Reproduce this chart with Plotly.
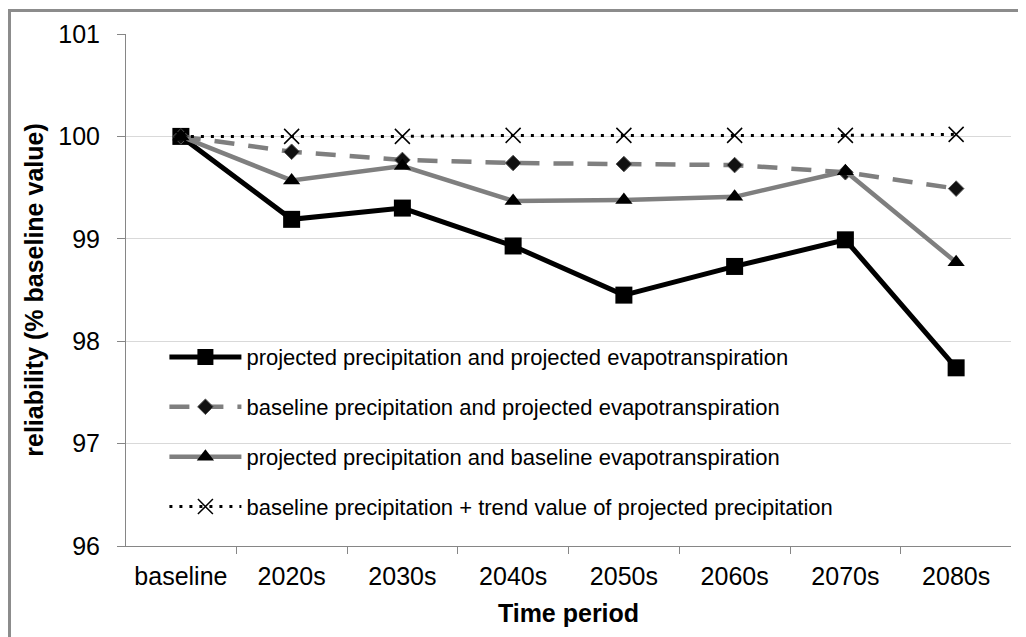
import plotly.graph_objects as go

categories = ["baseline", "2020s", "2030s", "2040s", "2050s", "2060s", "2070s", "2080s"]
proj_p_proj_et = [100.0, 99.19, 99.30, 98.93, 98.45, 98.73, 98.99, 97.74]
base_p_proj_et = [100.0, 99.85, 99.77, 99.74, 99.73, 99.72, 99.65, 99.49]
proj_p_base_et = [100.0, 99.57, 99.71, 99.37, 99.38, 99.41, 99.66, 98.77]
base_p_trend = [100.0, 100.0, 100.0, 100.01, 100.01, 100.01, 100.01, 100.02]

names = [
    "projected precipitation and projected evapotranspiration",
    "baseline precipitation and projected evapotranspiration",
    "projected precipitation and baseline evapotranspiration",
    "baseline precipitation + trend value of projected precipitation",
]

FONT = "Liberation Sans, Arial, sans-serif"

# page body has an 8px default margin; layout is offset to compensate
L, T, W, H = 118, 24, 885, 514
R = 1026 - L - W
B = 637 - T - H

fig = go.Figure()
fig.add_trace(go.Scatter(
    x=categories, y=proj_p_proj_et, name=names[0], legendgroup="a",
    mode="lines+markers",
    line=dict(color="black", width=5),
    marker=dict(symbol="square", size=17, color="black"),
))
fig.add_trace(go.Scatter(
    x=categories, y=base_p_proj_et, name=names[1], legendgroup="b",
    mode="lines+markers",
    line=dict(color="#7f7f7f", width=4.5, dash="20px,14px"),
    marker=dict(symbol="diamond", size=12, color="#111111",
                line=dict(color="#555555", width=1)),
))
fig.add_trace(go.Scatter(
    x=categories, y=proj_p_base_et, name=names[2], legendgroup="c",
    mode="lines+markers",
    line=dict(color="#7f7f7f", width=4.5),
    marker=dict(symbol="triangle-up", size=15, color="black"),
))
fig.add_trace(go.Scatter(
    x=categories, y=base_p_trend, name=names[3], legendgroup="d",
    mode="lines+markers",
    line=dict(color="black", width=3, dash="3px,7px"),
    marker=dict(symbol="x-thin-open", size=15, color="black",
                line=dict(color="black", width=1.5)),
))

fig.update_layout(
    width=1026, height=637,
    margin=dict(l=L, r=R, t=T, b=B),
    paper_bgcolor="white", plot_bgcolor="white",
    font=dict(family=FONT, size=25, color="black"),
    showlegend=True,
    legend=dict(
        x=0.0434, y=0.41, xanchor="left", yanchor="top",
        bgcolor="rgba(0,0,0,0)",
        font=dict(family=FONT, size=22, color="black"),
        itemwidth=72, tracegroupgap=18.3,
    ),
    xaxis=dict(
        type="category", tickson="boundaries",
        showline=True, linecolor="#868686", linewidth=1,
        ticks="outside", ticklen=7, tickcolor="#868686",
        showgrid=False, zeroline=False,
        tickfont=dict(size=25),
        ticklabelstandoff=8,
        title=dict(text="<b>Time period</b>", font=dict(size=25), standoff=15),
    ),
    yaxis=dict(
        range=[96, 101], dtick=1, tick0=96,
        showline=True, linecolor="#868686", linewidth=1,
        ticks="outside", ticklen=8, tickcolor="#868686",
        showgrid=True, gridcolor="#d9d9d9", gridwidth=1,
        zeroline=False,
        tickfont=dict(size=25),
        ticklabelstandoff=12,
        title=dict(text="<b>reliability (% baseline value)</b>", font=dict(size=25), standoff=7),
    ),
    shapes=[
        dict(type="line", xref="paper", yref="paper",
             x0=-L / W, x1=(1026 - L) / W, y0=(H + T - 0.5) / H, y1=(H + T - 0.5) / H,
             line=dict(color="#8c8c8c", width=3)),
        dict(type="line", xref="paper", yref="paper",
             x0=-(L - 1.5) / W, x1=-(L - 1.5) / W, y0=(H + T) / H, y1=-B / H,
             line=dict(color="#8c8c8c", width=3)),
    ],
)

fig.write_html("out.html")
